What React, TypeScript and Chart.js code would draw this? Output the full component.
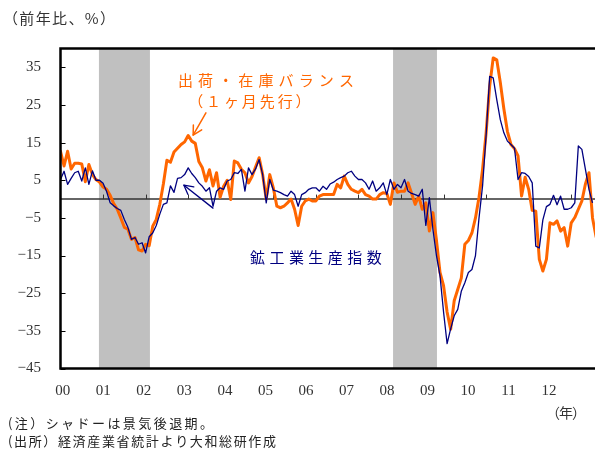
import React, { useEffect, useRef } from "react";
import { Chart, registerables } from "chart.js";

Chart.register(...registerables);

// ---- data ----
const yearLabels = ["00", "01", "02", "03", "04", "05", "06", "07", "08", "09", "10", "11", "12"];
const yearTickMonths = [0, 12, 24, 36, 48, 60, 72, 84, 96, 108, 120, 132, 144];
const yTickValues = [-45, -35, -25, -15, -5, 5, 15, 25, 35];
const recessionStart = [10.7, 97.8];
const recessionEnd = [25.8, 110.8];

// 鉱工業生産指数 (前年比, %), monthly from 2000-01
const production = [
  5.2, 7.4, 3.9, 5.5, 7.0, 7.4, 4.8, 8.3, 3.9, 7.5,
  5.0, 5.0, 4.2, 2.0, -1.0, -1.8, -2.5, -3.0, -5.4, -7.5,
  -10.7, -10.2, -12.0, -11.6, -14.3, -10.0, -9.0, -7.0, -4.0, -1.4,
  -1.0, 3.5, 1.8, 5.5, 5.7, 6.5, 8.3, 6.8, 5.7, 4.3,
  3.4, 2.1, 3.0, -1.9, 2.1, 3.0, 2.6, 4.8, 5.2, 7.0,
  6.8, 7.9, 2.1, 8.3, 6.5, 8.0, 10.5, 6.5, -1.0, 5.2,
  2.4, 2.1, 1.7, 1.2, 0.8, 2.1, 1.2, -1.9, 1.2, 1.7,
  2.6, 3.0, 3.0, 2.1, 3.4, 2.6, 4.0, 4.5, 5.2, 5.7,
  6.1, 7.0, 7.4, 6.1, 5.2, 5.2, 4.3, 2.6, 4.8, 2.1,
  3.0, 4.3, 1.2, 5.2, 2.6, 3.9, 3.0, 5.2, 2.1, 1.5,
  1.2, 0.8, 2.6, -7.0, 0.4, -8.0, -15.0, -20.4, -30.0, -38.4,
  -34.5, -31.0, -29.3, -24.5, -22.2, -19.5, -18.7, -15.0, -5.0, 3.5,
  17.0, 32.6, 32.2, 26.4, 21.1, 17.6, 15.4, 14.5, 13.5, 5.2,
  7.0, 6.8, 6.0, 4.3, -12.5, -13.0, -5.5, -2.0, -1.4, 1.0,
  -1.5, 0.8, -2.7, -2.7, -2.3, -1.0, 14.1, 13.2, 7.9, 2.6, -1.0,
];

// 出荷・在庫バランス (1ヶ月先行), monthly from 2000-01
const balance = [
  12.7, 8.8, 12.7, 8.0, 9.5, 9.5, 9.3, 4.6, 9.2, 6.5,
  5.2, 4.5, 3.2, 2.6, 1.0, -1.2, -2.7, -5.0, -7.5, -8.0,
  -10.7, -10.2, -13.5, -13.8, -12.0, -12.4, -7.2, -5.4, -1.4, 4.0,
  10.3, 9.8, 12.5, 13.5, 14.5, 15.2, 16.9, 15.4, 14.8, 10.0,
  8.3, 4.8, 7.8, 3.5, 7.0, 0.5, 3.4, 5.0, -0.1, 10.1,
  9.6, 7.9, 7.0, 4.3, 6.0, 8.5, 11.0, 6.5, 0.0, 6.5,
  3.0, -1.9, -2.3, -1.9, -1.0, 0.0, -2.7, -7.0, -1.9, -0.5,
  0.0, -0.5, -0.5, 0.8, 1.2, 1.2, 1.2, 1.2, 3.9, 3.0,
  6.1, 3.9, 2.6, 2.1, 1.7, 2.6, 1.2, 0.8, 0.0, 0.0,
  1.2, 1.7, 1.5, -1.4, 4.3, 1.8, 2.1, 2.1, 4.3, 1.5,
  -1.4, 0.8, -2.7, -1.0, -8.5, -3.6, -11.0, -19.5, -23.0, -30.0,
  -34.6, -27.0, -24.0, -21.0, -12.0, -11.0, -9.0, -5.0, 0.5, 7.9,
  17.6, 30.0, 37.5, 37.0, 31.0, 24.0, 18.0, 14.5, 13.4, 11.5,
  0.8, 5.8, 2.6, -3.0, -3.2, -16.0, -19.1, -16.0, -6.3, -6.7,
  -5.8, -8.5, -7.6, -12.5, -6.3, -4.9, -2.7, -0.5, 4.0, 7.0, -5.0, -10.0,
];

const JP = '"Noto Sans CJK JP", "Noto Sans", sans-serif';
const NUM = '"Liberation Serif", "DejaVu Serif", serif';
const ORANGE = "#ff6600";
const NAVY = "#000080";

function drawFit(
  ctx: CanvasRenderingContext2D,
  text: string,
  x: number,
  y: number,
  width: number,
  font: string,
  color: string
) {
  ctx.save();
  ctx.font = font;
  ctx.fillStyle = color;
  ctx.textAlign = "left";
  ctx.textBaseline = "middle";
  const c = ctx as any;
  c.letterSpacing = "0px";
  const w = ctx.measureText(text).width;
  const n = Array.from(text).length;
  const ls = (width - w) / Math.max(1, n - 1);
  c.letterSpacing = `${ls}px`;
  ctx.fillText(text, x, y);
  c.letterSpacing = "0px";
  ctx.restore();
}

function drawArrow(
  ctx: CanvasRenderingContext2D,
  x1: number,
  y1: number,
  x2: number,
  y2: number,
  color: string,
  width: number
) {
  ctx.save();
  ctx.strokeStyle = color;
  ctx.lineWidth = width;
  ctx.lineCap = "round";
  ctx.lineJoin = "round";
  ctx.beginPath();
  ctx.moveTo(x1, y1);
  ctx.lineTo(x2, y2);
  ctx.stroke();
  const ang = Math.atan2(y2 - y1, x2 - x1);
  const len = 10;
  const spread = 0.5;
  ctx.beginPath();
  ctx.moveTo(x2 - len * Math.cos(ang - spread), y2 - len * Math.sin(ang - spread));
  ctx.lineTo(x2, y2);
  ctx.lineTo(x2 - len * Math.cos(ang + spread), y2 - len * Math.sin(ang + spread));
  ctx.stroke();
  ctx.restore();
}

const decorations = {
  id: "decorations",
  beforeDatasetsDraw(chart: any) {
    const { ctx, chartArea: a } = chart;
    const x = chart.scales.x;
    const x2 = chart.scales.x2;
    const y = chart.scales.y;
    ctx.save();
    ctx.fillStyle = "#c0c0c0";
    recessionStart.forEach((s, k) => {
      const l = x2.getPixelForValue(s);
      const r = x2.getPixelForValue(recessionEnd[k]);
      ctx.fillRect(l, a.top, r - l, a.bottom - a.top);
    });
    const y0 = y.getPixelForValue(0);
    ctx.strokeStyle = "#333333";
    ctx.lineWidth = 1.5;
    ctx.beginPath();
    ctx.moveTo(a.left, y0);
    ctx.lineTo(a.right, y0);
    ctx.stroke();
    ctx.lineWidth = 1;
    yearTickMonths.forEach((m) => {
      if (m === 0) return;
      const px = Math.round(x.getPixelForValue(m)) + 0.5;
      ctx.beginPath();
      ctx.moveTo(px, y0 - 4.5);
      ctx.lineTo(px, y0);
      ctx.stroke();
    });
    ctx.restore();
  },
  afterDatasetsDraw(chart: any) {
    const { ctx, chartArea: a } = chart;
    const y = chart.scales.y;
    ctx.save();
    ctx.strokeStyle = "#000000";
    ctx.lineWidth = 1;
    yTickValues.forEach((v) => {
      const py = Math.round(y.getPixelForValue(v)) + 0.5;
      ctx.beginPath();
      ctx.moveTo(a.left, py);
      ctx.lineTo(a.left + 5, py);
      ctx.stroke();
    });
    ctx.lineWidth = 2.5;
    ctx.beginPath();
    ctx.moveTo(a.right + 2, a.top);
    ctx.lineTo(a.left, a.top);
    ctx.lineTo(a.left, a.bottom);
    ctx.lineTo(a.right + 2, a.bottom);
    ctx.stroke();
    ctx.restore();
  },
  afterDraw(chart: any) {
    const { ctx } = chart;
    const x = chart.scales.x;
    const y = chart.scales.y;
    const px = (v: number) => x.getPixelForValue(v);
    const py = (v: number) => y.getPixelForValue(v);

    // annotations (positioned in data units)
    drawFit(ctx, "出荷・在庫バランス", px(33.1), py(31.6), px(82.75) - px(33.1), `15px ${JP}`, ORANGE);
    drawFit(ctx, "（１ヶ月先行）", px(36.0), py(26.1), px(70.5) - px(36.0), `15px ${JP}`, ORANGE);
    drawArrow(ctx, px(41.0), py(22.9), px(37.4), py(17.0), ORANGE, 1.5);

    drawFit(ctx, "鉱工業生産指数", px(53.4), py(-15.4), px(90.6) - px(53.4), `15px ${JP}`, NAVY);
    drawArrow(ctx, px(43.0), py(-2.4), px(34.8), py(3.7), NAVY, 1.3);

    // title & notes
    drawFit(ctx, "（前年比、%）", 3, 18, 112, `15px ${JP}`, "#333333");
    drawFit(ctx, "（年）", 546, 413, 40, `14px ${JP}`, "#333333");
    drawFit(ctx, "(注）シャドーは景気後退期。", 8, 423, 205, `13px ${JP}`, "#222222");
    drawFit(ctx, "(出所）経済産業省統計より大和総研作成", 8, 441, 268, `13px ${JP}`, "#222222");
  },
};

export default function App() {
  const ref = useRef<HTMLCanvasElement>(null);

  useEffect(() => {
    if (!ref.current) return;
    const chart = new Chart(ref.current, {
      type: "line",
      data: {
        datasets: [
          {
            label: "鉱工業生産指数",
            data: production.map((v, i) => ({ x: i, y: v })),
            borderColor: NAVY,
            borderWidth: 1.3,
            pointRadius: 0,
            tension: 0,
            fill: false,
            xAxisID: "x",
            yAxisID: "y",
            order: 0,
            borderJoinStyle: "round",
          },
          {
            label: "出荷・在庫バランス",
            data: balance.map((v, i) => ({ x: i, y: v })),
            borderColor: ORANGE,
            borderWidth: 3,
            pointRadius: 0,
            tension: 0,
            fill: false,
            xAxisID: "x",
            yAxisID: "y",
            order: 1,
            borderJoinStyle: "round",
            borderCapStyle: "round",
          },
        ],
      },
      options: {
        responsive: false,
        animation: false,
        events: [],
        layout: { padding: { top: 48.5, left: 0, right: 0, bottom: 51.5 } },
        plugins: {
          legend: { display: false },
          title: { display: false },
          tooltip: { enabled: false },
        },
        scales: {
          x: {
            type: "linear",
            display: false,
            min: 0,
            max: 150.7,
          },
          x2: {
            type: "linear",
            position: "bottom",
            min: -0.68,
            max: 157.6,
            grid: { display: false, drawTicks: false },
            border: { display: false },
            afterBuildTicks: (scale: any) => {
              scale.ticks = yearTickMonths.map((v) => ({ value: v }));
            },
            afterFit: (scale: any) => {
              scale.height = 30;
            },
            ticks: {
              autoSkip: false,
              maxRotation: 0,
              minRotation: 0,
              padding: 13.5,
              color: "#333333",
              font: { family: NUM, size: 15 },
              callback: (_v: any, idx: number) => yearLabels[idx],
            },
          },
          y: {
            type: "linear",
            position: "left",
            min: -45,
            max: 40,
            grid: { display: false, drawTicks: false },
            border: { display: false },
            afterBuildTicks: (scale: any) => {
              scale.ticks = yTickValues.map((v) => ({ value: v }));
            },
            afterFit: (scale: any) => {
              scale.width = 60.5;
            },
            ticks: {
              padding: 19.5,
              color: "#333333",
              font: { family: NUM, size: 15 },
              callback: (v: any) => String(v).replace("-", "\u2212"),
            },
          },
        },
      },
      plugins: [decorations],
    } as any);
    return () => chart.destroy();
  }, []);

  return (
    <div style={{ position: "absolute", left: 0, top: 0, width: 595, height: 450, background: "#ffffff", overflow: "hidden" }}>
      <canvas ref={ref} width={595} height={450} style={{ display: "block", width: 595, height: 450 }} />
    </div>
  );
}
